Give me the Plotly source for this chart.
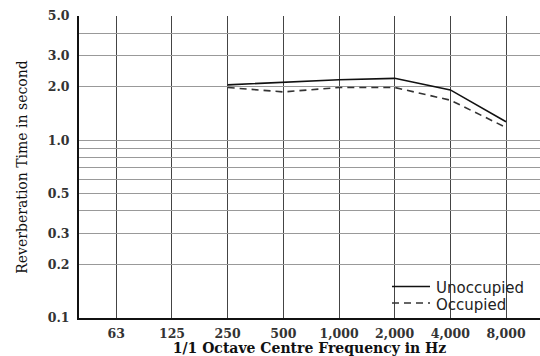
import plotly.graph_objects as go

freq_labels = ["63", "125", "250", "500", "1,000", "2,000", "4,000", "8,000"]
series_freqs = ["250", "500", "1,000", "2,000", "4,000", "8,000"]
unoccupied = [2.05, 2.12, 2.19, 2.23, 1.92, 1.27]
occupied = [1.98, 1.87, 1.98, 1.98, 1.68, 1.18]
series_names = ["Unoccupied", "Occupied"]

y_grid_vals = [0.1, 0.2, 0.3, 0.4, 0.5, 0.6, 0.7, 0.8, 0.9, 1.0, 2.0, 3.0, 4.0, 5.0]
y_label_map = {0.1: "0.1", 0.2: "0.2", 0.3: "0.3", 0.5: "0.5", 1.0: "1.0",
               2.0: "2.0", 3.0: "3.0", 5.0: "5.0"}
y_tick_text = [y_label_map.get(v, "") for v in y_grid_vals]

line_styles = [dict(color="#111111", width=1.6),
               dict(color="#333333", width=1.6, dash="7px,5px")]

fig = go.Figure()
for name, vals, ls in zip(series_names, [unoccupied, occupied], line_styles):
    fig.add_trace(go.Scatter(x=series_freqs, y=vals, mode="lines", name=name,
                             line=ls, showlegend=False))

# manual legend (samples + labels) in paper coordinates
L, T, W, H = 79, 16, 461, 302
def px_x(px):
    return (px - L) / W
def px_y(py):
    return (T + H - py) / H

legend_rows = [286.5, 303.0]
for name, ls, row in zip(series_names, line_styles, legend_rows):
    fig.add_shape(type="line", xref="paper", yref="paper",
                  x0=px_x(392), x1=px_x(430), y0=px_y(row), y1=px_y(row),
                  line=ls)
    fig.add_annotation(xref="paper", yref="paper", x=px_x(434), y=px_y(row + 1.5),
                       xanchor="left", yanchor="middle", text=name, showarrow=False,
                       font=dict(family="DejaVu Sans", size=15, color="#222222"))

serif = "DejaVu Serif"
fig.update_layout(
    width=540, height=356,
    margin=dict(l=79, r=0, t=16, b=38),
    paper_bgcolor="white", plot_bgcolor="white",
    showlegend=False,
    xaxis=dict(
        type="category", categoryorder="array", categoryarray=freq_labels,
        tickvals=freq_labels, ticktext=freq_labels,
        range=[-0.67, 7.61],
        showgrid=True, gridcolor="#444444", gridwidth=1,
        showline=True, linecolor="#111111", linewidth=2,
        ticks="outside", ticklen=3, tickcolor="rgba(0,0,0,0)",
        tickfont=dict(family=serif, size=12.5, color="#333333", weight="bold"),
        title=dict(text="1/1 Octave Centre Frequency in Hz", standoff=5,
                   font=dict(family=serif, size=14, color="#111111", weight="bold")),
        zeroline=False, automargin=False,
    ),
    yaxis=dict(
        type="log", range=[-1, 0.69897],
        tickvals=y_grid_vals, ticktext=y_tick_text,
        showgrid=True, gridcolor="#999999", gridwidth=1,
        showline=True, linecolor="#111111", linewidth=2,
        ticks="outside", ticklen=5, tickcolor="rgba(0,0,0,0)",
        tickfont=dict(family=serif, size=12.5, color="#333333", weight="bold"),
        title=dict(text="Reverberation Time in second", standoff=17,
                   font=dict(family=serif, size=14, color="#111111")),
        zeroline=False, automargin=False,
    ),
)

fig.write_html("out.html", config={"displayModeBar": False},
               post_script="document.body.style.margin='0';")
